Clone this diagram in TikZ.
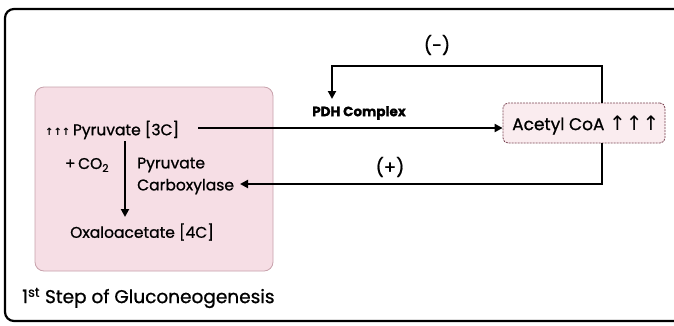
\documentclass[tikz,border=0pt]{standalone}
\usepackage{fontspec}
\setmainfont{Poppins}[FakeBold=0.9]
\newfontfamily\symf{DejaVu Sans}
\usetikzlibrary{arrows.meta}
\definecolor{pinkfill}{HTML}{F6DEE5}
\definecolor{pinkedge}{HTML}{C8A2AC}
\definecolor{acfill}{HTML}{FAECEF}
\definecolor{acedge}{HTML}{7A4452}
\tikzset{
  lbl/.style={inner sep=0pt, font=\fontsize{15.5}{22}\selectfont, text=black},
  flow/.style={line width=2.8pt, -{Triangle[length=8pt,width=8pt]}},
}
\begin{document}
\begin{tikzpicture}[x=1pt,y=-1pt]
\useasboundingbox (0,0) rectangle (674,325);
\clip (0,0) rectangle (674,325);
\fill[white] (0,0) rectangle (674,325);
% outer frame
\draw[line width=2.2pt, rounded corners=9pt] (700,9) -- (5,9) -- (5,321) -- (700,321);
% pink box
\node[draw=pinkedge, fill=pinkfill, line width=0.8pt, rounded corners=9pt, minimum width=238pt, minimum height=184pt, inner sep=0pt] (pinkbox) at (154,179) {};
% texts in pink box
\node[lbl, anchor=west] (pyr) at (45,130) {{\symf\bfseries\fontsize{10}{10}\selectfont ↑↑↑}\,Pyruvate [3C]};
\node[lbl] (co2) at (87,165) {+\,CO\textsubscript{2}};
\node[lbl, align=left, anchor=west] (pc) at (137,176) {Pyruvate\\Carboxylase};
\node[lbl, anchor=west] (oaa) at (70,232) {Oxaloacetate [4C]};
\coordinate (vtop) at (125,141);
\coordinate (vbot) at (125,217);
\draw[flow] (vtop) -- (vbot);
% acetyl CoA
\node[draw=acedge, fill=acfill, dash pattern=on 2pt off 1pt, line width=0.8pt, rounded corners=5pt, minimum width=162pt, minimum height=40pt, inner sep=0pt] (acoa) at (584,123) {};
\node[lbl, font=\fontsize{17}{20}\selectfont, anchor=west] (actext) at (512,125) {Acetyl CoA {\symf\fontsize{20}{20}\selectfont ↑↑↑}};
% PDH
\node[lbl, font=\bfseries\fontsize{13.5}{16}\selectfont] (pdh) at (359,113) {PDH Complex};
\coordinate (pyrstart) at (198,128);
\draw[flow] (pyrstart) -- (acoa.west |- pyrstart);
% (-) loop
\coordinate (mtop) at (602,103);
\coordinate (mtip) at (332,99);
\draw[flow] (mtop) |- (332,66) -- (mtip);
\node[lbl, font=\fontsize{18}{20}\selectfont] (minus) at (437,45) {(-)};
% (+) loop
\coordinate (pbot) at (602,143);
\coordinate (ptip) at (240,184);
\draw[flow] (pbot) |- (ptip);
\node[lbl, font=\fontsize{18}{20}\selectfont] (plus) at (390,167) {(+)};
% title
\node[lbl, font=\fontsize{18.5}{22}\selectfont, anchor=west] (title) at (22,298) {1\textsuperscript{st} Step of Gluconeogenesis};
\end{tikzpicture}
\end{document}
